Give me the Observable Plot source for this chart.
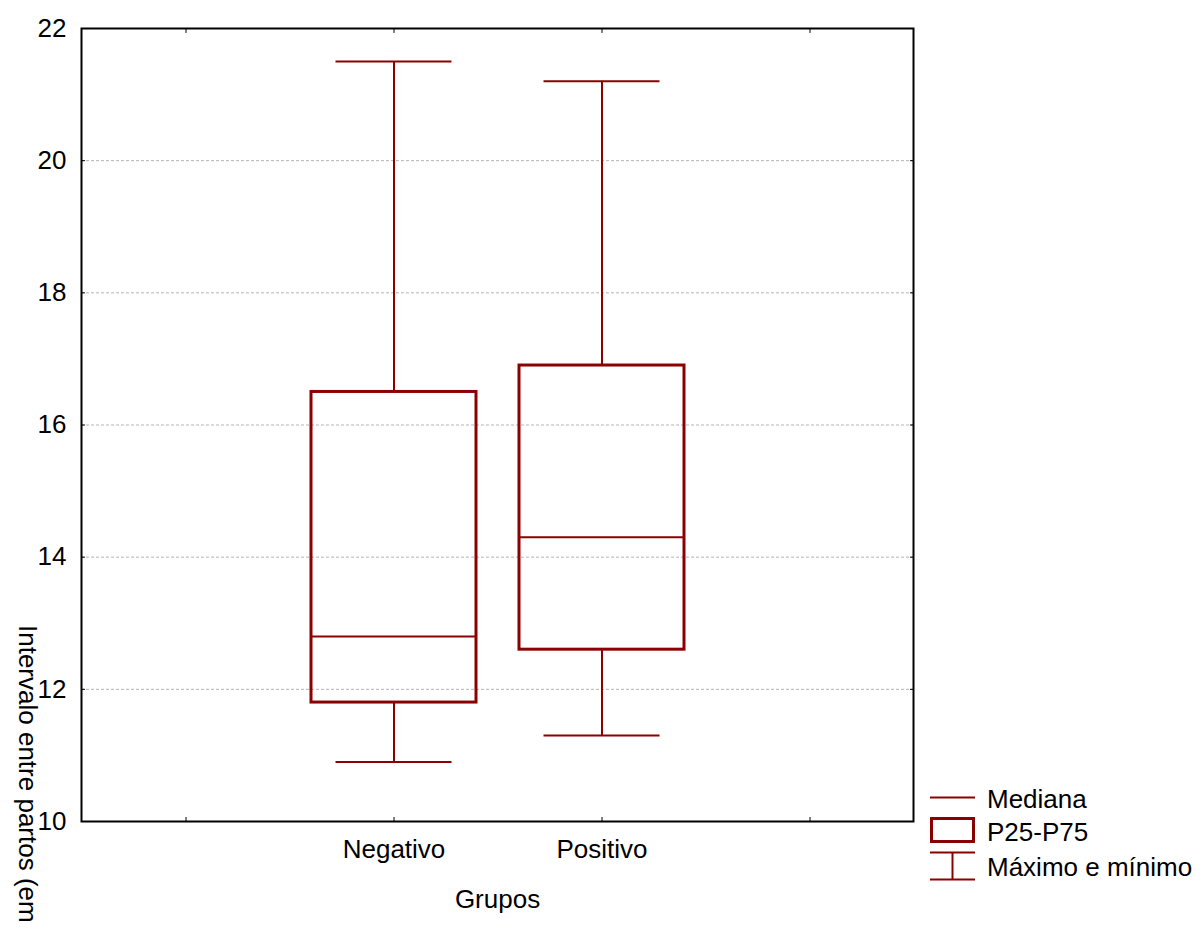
<!DOCTYPE html>
<html>
<head>
<meta charset="utf-8">
<script src="https://cdn.jsdelivr.net/npm/d3@7"></script>
<script src="https://cdn.jsdelivr.net/npm/@observablehq/plot@0.6"></script>
<style>
  html, body { margin: 0; padding: 0; background: #fff; }
  #wrap { position: relative; width: 1203px; height: 928px; overflow: hidden; font-family: "Liberation Sans", Arial, sans-serif; }
  #legend { position: absolute; left: 0; top: 0; }
</style>
</head>
<body>
<div id="wrap"></div>
<script>
// ---- data ----
const categories = ["Negativo", "Positivo"];
const xDomain = ["", "Negativo", "Positivo", " "];
const minimo = [10.9, 11.3];
const p25 = [11.8, 12.6];
const mediana = [12.8, 14.3];
const p75 = [16.5, 16.9];
const maximo = [21.5, 21.2];
const yTicks = [10, 12, 14, 16, 18, 20, 22];
const gridTicks = [12, 14, 16, 18, 20];
const legendLabels = ["Mediana", "P25-P75", "Máximo e mínimo"];
const xLabel = "Grupos";
const yLabel = "Intervalo entre partos (em";

const color = "#8b0000";
const font = "Liberation Sans, Arial, sans-serif";
const fs = 26;

const rows = categories.map((g, i) => ({
  grupo: g, min: minimo[i], q1: p25[i], med: mediana[i], q3: p75[i], max: maximo[i]
}));

const chart = Plot.plot({
  width: 1203,
  height: 928,
  marginLeft: 81,
  marginRight: 290,
  marginTop: 28,
  marginBottom: 107,
  style: { fontFamily: font, fontSize: fs + "px", color: "#000", background: "#fff" },
  x: { type: "band", domain: xDomain, paddingInner: 0.207, paddingOuter: 0.1035, label: null },
  y: { domain: [10, 22], label: null },
  marks: [
    Plot.gridY(gridTicks, { stroke: "#b4b4b4", strokeOpacity: 1, strokeWidth: 1, strokeDasharray: "3,2" }),
    // whiskers
    Plot.ruleX(rows, { x: "grupo", y1: "min", y2: "q1", stroke: color, strokeWidth: 2 }),
    Plot.ruleX(rows, { x: "grupo", y1: "q3", y2: "max", stroke: color, strokeWidth: 2 }),
    Plot.tickY(rows, { x: "grupo", y: "min", stroke: color, strokeWidth: 2, insetLeft: 24.5, insetRight: 24.5 }),
    Plot.tickY(rows, { x: "grupo", y: "max", stroke: color, strokeWidth: 2, insetLeft: 24.5, insetRight: 24.5 }),
    // box
    Plot.barY(rows, { x: "grupo", y1: "q1", y2: "q3", fill: "none", stroke: color, strokeWidth: 3 }),
    // median
    Plot.tickY(rows, { x: "grupo", y: "med", stroke: color, strokeWidth: 2 }),
    // axes with inward ticks
    Plot.axisY({ anchor: "left", ticks: yTicks, tickSize: 4, dx: 4, tickPadding: 15, fontSize: fs, label: null, stroke: "#000" }),
    Plot.axisY({ anchor: "right", ticks: yTicks, tickSize: 4, dx: -4, tickFormat: () => "", label: null }),
    Plot.axisX({ anchor: "bottom", tickSize: 4, dy: -4, tickPadding: 18, fontSize: fs, label: null,
                 tickFormat: d => categories.includes(d) ? d : "" }),
    Plot.axisX({ anchor: "top", tickSize: 4, dy: 4, tickFormat: () => "", label: null }),
    Plot.frame({ stroke: "#000", strokeWidth: 2 }),
    // axis titles
    Plot.text([xLabel], { frameAnchor: "bottom", dy: 86, lineAnchor: "bottom", fontSize: fs, fill: "#000" }),
    Plot.text([yLabel], { frameAnchor: "left", dx: -63, dy: 200, rotate: 90, textAnchor: "start", lineAnchor: "bottom", fontSize: fs, fill: "#000" })
  ]
});

const wrap = document.getElementById("wrap");
wrap.appendChild(chart);

// legend
const ns = "http://www.w3.org/2000/svg";
const lg = document.createElementNS(ns, "svg");
lg.setAttribute("id", "legend");
lg.setAttribute("width", 1203);
lg.setAttribute("height", 928);
lg.style.pointerEvents = "none";
const L = d3.select(lg);
L.append("line").attr("x1", 930).attr("x2", 975).attr("y1", 797.5).attr("y2", 797.5).attr("stroke", color).attr("stroke-width", 2);
L.append("rect").attr("x", 931.5).attr("y", 818.5).attr("width", 42).attr("height", 23).attr("fill", "none").attr("stroke", color).attr("stroke-width", 3);
L.append("line").attr("x1", 930).attr("x2", 975).attr("y1", 852.5).attr("y2", 852.5).attr("stroke", color).attr("stroke-width", 2);
L.append("line").attr("x1", 930).attr("x2", 975).attr("y1", 879.5).attr("y2", 879.5).attr("stroke", color).attr("stroke-width", 2);
L.append("line").attr("x1", 952.5).attr("x2", 952.5).attr("y1", 852.5).attr("y2", 879.5).attr("stroke", color).attr("stroke-width", 2);
const baselines = [808, 841, 876];
legendLabels.forEach((t, i) => {
  L.append("text").attr("x", 987).attr("y", baselines[i]).attr("font-family", font).attr("font-size", fs).attr("fill", "#000").text(t);
});
wrap.appendChild(lg);
</script>
</body>
</html>
